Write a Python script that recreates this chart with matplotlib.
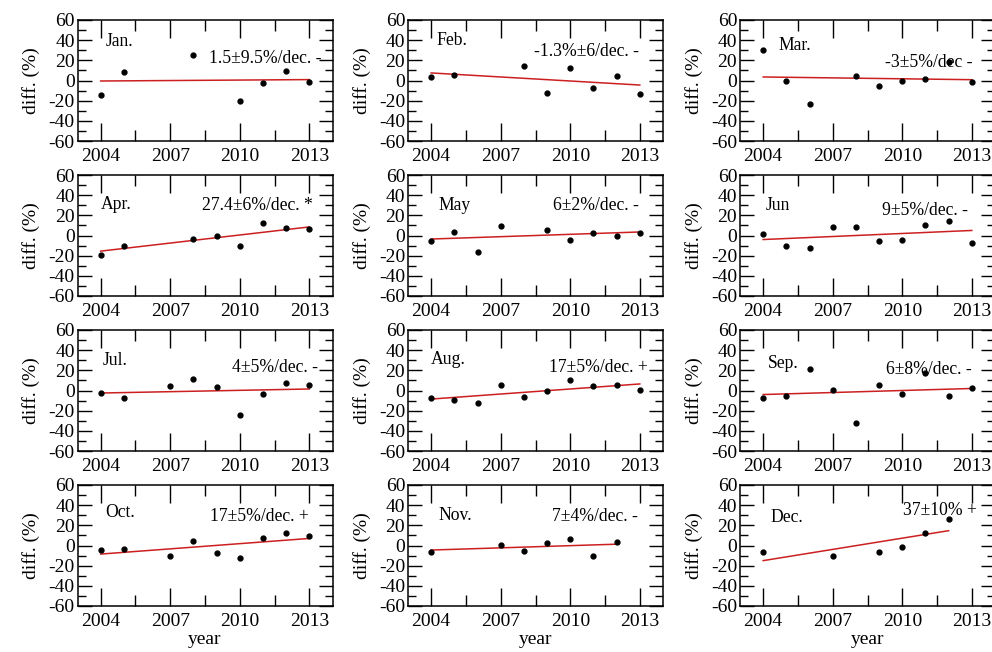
import numpy as np
import matplotlib
matplotlib.use('Agg')
import matplotlib.pyplot as plt
from matplotlib.ticker import MultipleLocator, FixedLocator

plt.rcParams['font.family'] = 'serif'
plt.rcParams['font.serif'] = ['Liberation Serif', 'DejaVu Serif']
plt.rcParams['axes.unicode_minus'] = False

# values
months = ['Jan.', 'Feb.', 'Mar.', 'Apr.', 'May', 'Jun',
          'Jul.', 'Aug.', 'Sep.', 'Oct.', 'Nov.', 'Dec.']

years = [
    [2004, 2005, 2008, 2010, 2011, 2012, 2013],
    [2004, 2005, 2008, 2009, 2010, 2011, 2012, 2013],
    [2004, 2005, 2006, 2008, 2009, 2010, 2011, 2012, 2013],
    [2004, 2005, 2008, 2009, 2010, 2011, 2012, 2013],
    [2004, 2005, 2006, 2007, 2009, 2010, 2011, 2012, 2013],
    [2004, 2005, 2006, 2007, 2008, 2009, 2010, 2011, 2012, 2013],
    [2004, 2005, 2007, 2008, 2009, 2010, 2011, 2012, 2013],
    [2004, 2005, 2006, 2007, 2008, 2009, 2010, 2011, 2012, 2013],
    [2004, 2005, 2006, 2007, 2008, 2009, 2010, 2011, 2012, 2013],
    [2004, 2005, 2007, 2008, 2009, 2010, 2011, 2012, 2013],
    [2004, 2007, 2008, 2009, 2010, 2011, 2012],
    [2004, 2007, 2009, 2010, 2011, 2012],
]

diffs = [
    [-14.7, 8, 25, -20.7, -2.3, 9.3, -1.7],
    [3.7, 5.3, 14, -12.3, 12, -7.3, 4.7, -13.3],
    [30.3, -0.7, -23, 4.3, -5.7, -0.7, 1, 18.7, -1.3],
    [-19, -10, -3.3, 0, -10, 12.7, 7.3, 6.5],
    [-5, 3.7, -16.7, 9.7, 5.3, -4.3, 2.7, -0.3, 2.7],
    [1.3, -10, -12.3, 8, 8, -5.7, -4.7, 10.3, 14.3, -7.7],
    [-2.7, -7.3, 4.3, 11.3, 3.3, -24.7, -3.3, 7.3, 5],
    [-7.3, -9.7, -12.7, 5, -6.3, -0.3, 10, 4.7, 5, 0.7],
    [-7, -5, 21, 0.3, -32.3, 5, -3.3, 17.3, -5.7, 2.7],
    [-4, -3, -10.3, 4.3, -7, -12, 7.3, 12.3, 9.3],
    [-6.3, 0.3, -5.3, 2.7, 6.3, -10.7, 3.7],
    [-6.3, -10.7, -6.3, -1, 12.7, 26.3],
]

# trend line value at first and last year
trend_start = [-0.5, 7.5, 3.5, -15.5, -3.5, -4, -2.5, -8.5, -4, -8.5, -4.5, -15]
trend_end = [0.9, -4.5, 0.8, 8.5, 3.5, 5, 1.5, 6.5, 2, 7, 1.3, 14.7]

trend_labels = ['1.5±9.5%/dec. -', '-1.3%±6/dec. -', '-3±5%/dec -',
                '27.4±6%/dec. *', '6±2%/dec. -', '9±5%/dec. -',
                '4±5%/dec. -', '17±5%/dec. +', '6±8%/dec. -',
                '17±5%/dec. +', '7±4%/dec. -', '37±10% +']

# text placement (axes fraction)
month_pos = [(0.11, 0.82), (0.11, 0.83), (0.15, 0.79), (0.09, 0.76),
             (0.12, 0.75), (0.1, 0.75), (0.1, 0.75), (0.09, 0.76),
             (0.11, 0.72), (0.11, 0.77), (0.12, 0.75), (0.12, 0.73)]
trend_pos = [(0.955, 0.68), (0.905, 0.74), (0.91, 0.65),
             (0.925, 0.75), (0.905, 0.75), (0.895, 0.71),
             (0.945, 0.69), (0.94, 0.69), (0.91, 0.675),
             (0.905, 0.74), (0.90, 0.74), (0.93, 0.79)]

W, H = 992, 652
fig = plt.figure(figsize=(W / 100, H / 100), dpi=100)

col_left = [77.5, 408, 740]
ax_w = 255
ax_h = 121

for i in range(12):
    r, c = divmod(i, 3)
    top = 20 + 155 * r
    ax = fig.add_axes([col_left[c] / W, 1 - (top + ax_h) / H, ax_w / W, ax_h / H])

    x = np.array(years[i])
    y = np.array(diffs[i])
    ax.plot(x, y, 'o', color='black', markersize=3.5, zorder=3)
    ax.plot([x[0], x[-1]], [trend_start[i], trend_end[i]],
            color='#cc2020', linewidth=1.1, zorder=2)

    ax.set_xlim(2003, 2014)
    ax.set_ylim(-60, 60)
    ax.xaxis.set_major_locator(FixedLocator([2004, 2007, 2010, 2013]))
    ax.xaxis.set_minor_locator(FixedLocator([2005.5, 2008.5, 2011.5]))
    ax.yaxis.set_major_locator(MultipleLocator(20))
    ax.yaxis.set_minor_locator(MultipleLocator(10))
    ax.tick_params(axis='both', which='both', direction='in', top=True, right=True,
                   labelsize=14, width=1.0)
    ax.tick_params(axis='x', which='major', length=13, pad=5)
    ax.tick_params(axis='x', which='minor', length=8)
    ax.tick_params(axis='y', which='major', length=10, pad=2)
    ax.tick_params(axis='y', which='minor', length=6)
    for s in ax.spines.values():
        s.set_linewidth(1.1)

    ax.set_ylabel('diff. (%)', fontsize=14, labelpad=6)
    if r == 3:
        ax.set_xlabel('year', fontsize=14, labelpad=1)

    mx, my = month_pos[i]
    ax.text(mx, my, months[i], transform=ax.transAxes, fontsize=12.7,
            ha='left', va='center')
    tx, ty = trend_pos[i]
    ax.text(tx, ty, trend_labels[i], transform=ax.transAxes, fontsize=12.7,
            ha='right', va='center')

fig.savefig('out.png', dpi=100)
